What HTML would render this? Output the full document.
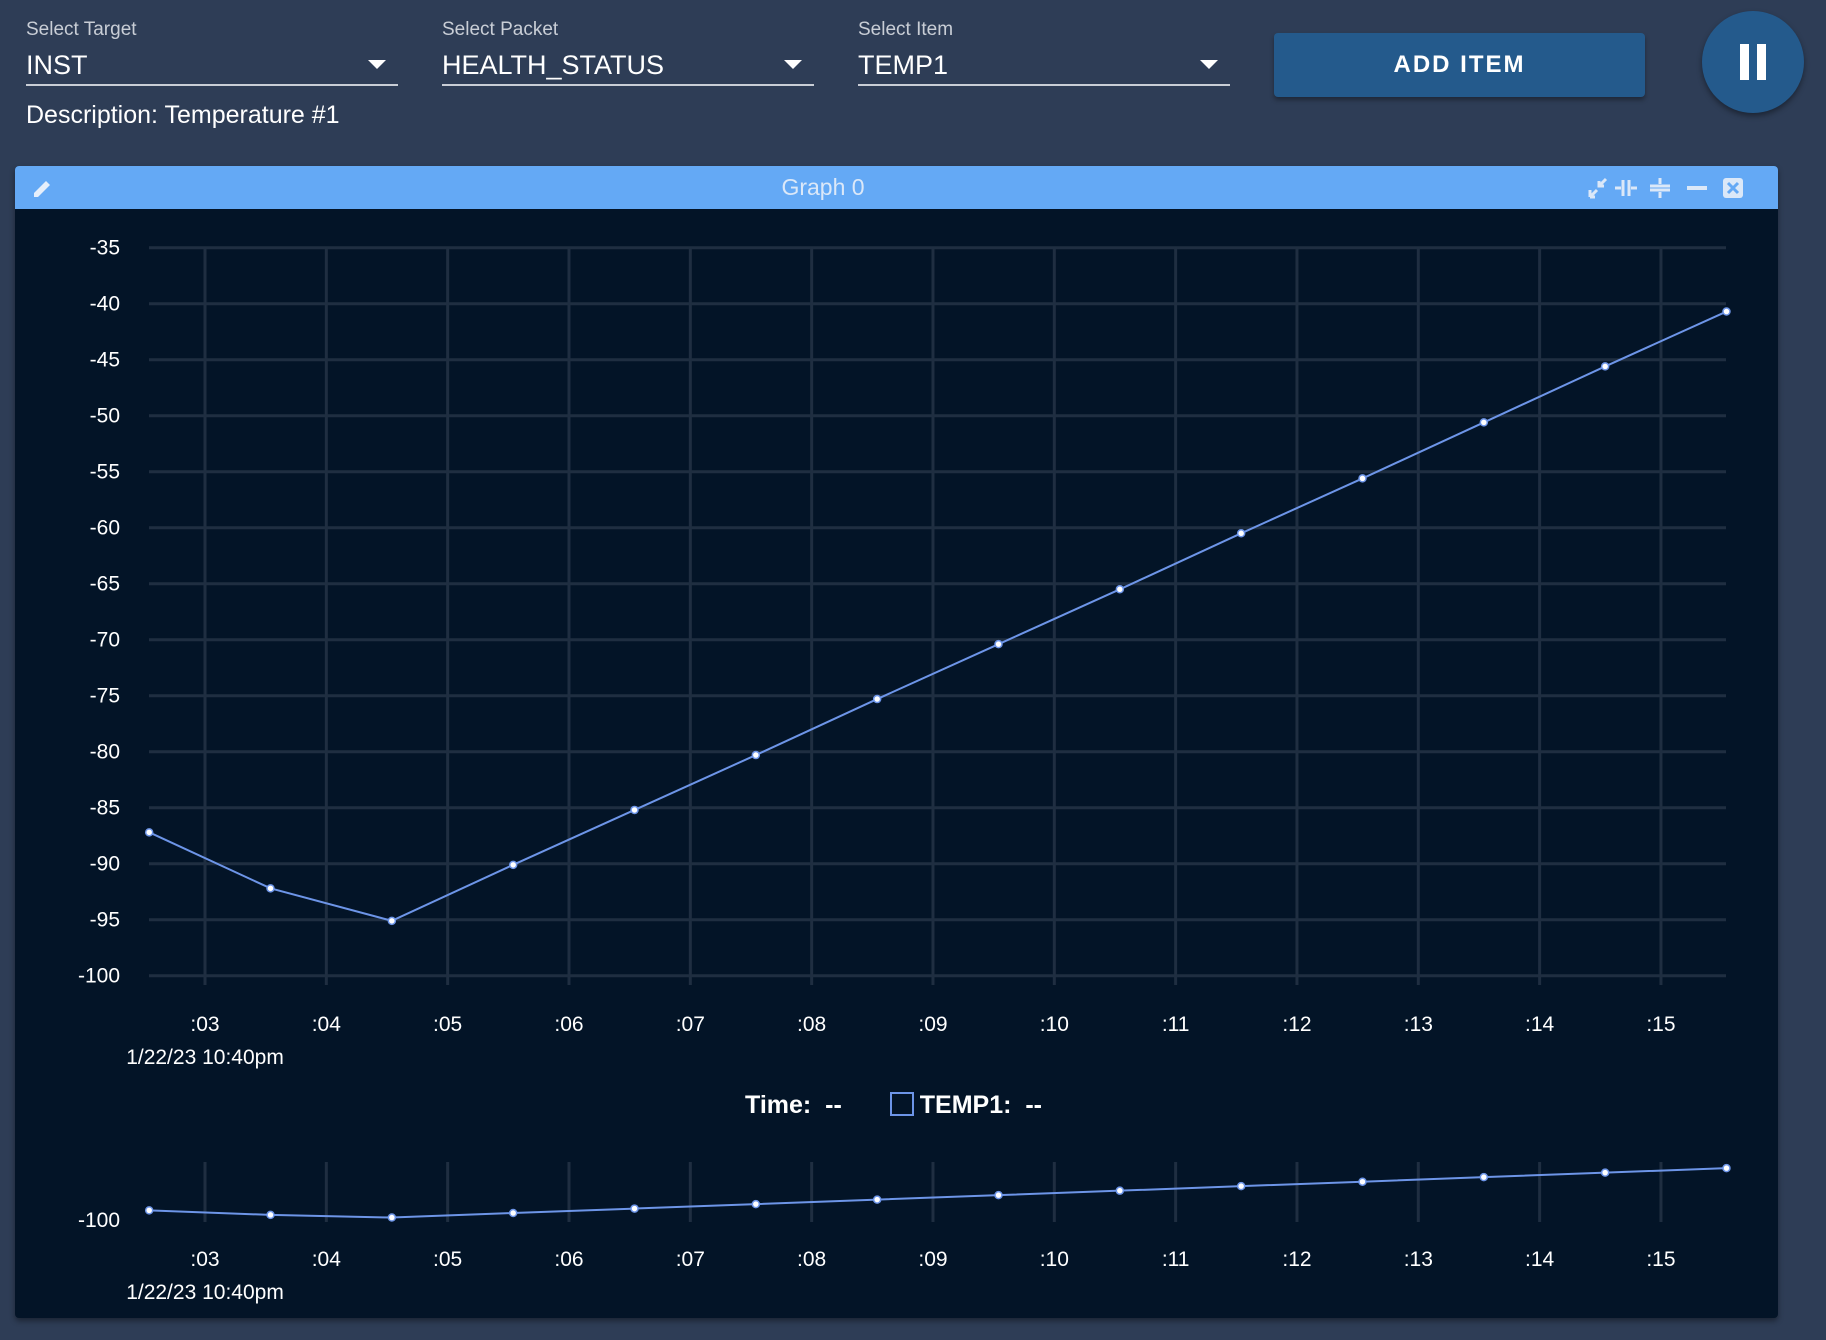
<!DOCTYPE html>
<html><head><meta charset="utf-8">
<style>
body{margin:0;width:1826px;height:1340px;background:#2e3d56;font-family:"Liberation Sans",sans-serif;overflow:hidden;position:relative;color:#fff}
.lbl{position:absolute;top:19px;font-size:19px;color:#c9ced6}
.fld{position:absolute;top:48px;height:36px;border-bottom:2px solid #c9ced6;font-size:27px;color:#fff;line-height:34px}
.arr{position:absolute;right:12px;top:12px;width:0;height:0;border-left:9px solid transparent;border-right:9px solid transparent;border-top:9px solid #fff}
</style></head><body>
<div class="lbl" style="left:26px">Select Target</div>
<div class="fld" style="left:26px;width:372px">INST<div class="arr"></div></div>
<div class="lbl" style="left:442px">Select Packet</div>
<div class="fld" style="left:442px;width:372px">HEALTH_STATUS<div class="arr"></div></div>
<div class="lbl" style="left:858px">Select Item</div>
<div class="fld" style="left:858px;width:372px">TEMP1<div class="arr"></div></div>
<div style="position:absolute;left:1274px;top:33px;width:371px;height:64px;background:#245a8c;border-radius:4px;box-shadow:0 3px 5px rgba(0,0,0,.35);font-size:24px;font-weight:bold;letter-spacing:2px;text-align:center;line-height:64px">ADD ITEM</div>
<div style="position:absolute;left:1702px;top:11px;width:102px;height:102px;border-radius:51px;background:#245a8c;box-shadow:0 3px 6px rgba(0,0,0,.4)"><div style="position:absolute;left:38px;top:33px;width:9px;height:36px;background:#fff"></div><div style="position:absolute;left:55px;top:33px;width:9px;height:36px;background:#fff"></div></div>
<div style="position:absolute;left:26px;top:101px;font-size:25px">Description: Temperature #1</div>

<div style="position:absolute;left:15px;top:166px;width:1763px;height:1152px;background:#031427;border-radius:4px;box-shadow:0 3px 6px rgba(0,0,0,.4)">
 <div style="position:absolute;left:0;top:0;width:1763px;height:43px;background:#64a9f5;border-radius:4px 4px 0 0">
  <div style="position:absolute;left:0;width:1616px;text-align:center;top:8px;font-size:23px;color:#dbe8f8">Graph 0</div>
  <svg style="position:absolute;left:16px;top:10px" width="24" height="24"><path d="M3 21v-4L15 5l4 4L7 21z" fill="#e6effb"/></svg>
  <svg style="position:absolute;left:1570px;top:10px" width="180" height="24" fill="none" stroke="#dbe8f8" stroke-width="3">
   <g><path d="M5 21l7-7M5 14v7h0M10 21H5M21 3l-7 7M14 5v5h5"/></g>
   <g><path d="M38 4v16M44 4v16M30 12h6M52 12h-6"/></g>
   <g><path d="M65 10h20M65 14h20M75 2v6M75 22v-6"/></g>
   <g><path d="M102 12h20" stroke-width="4"/></g>
   <g><rect x="138" y="2" width="20" height="20" rx="3" fill="#dbe8f8" stroke="none"/><path d="M143 7l10 10M153 7l-10 10" stroke="#64a9f5"/></g>
  </svg>
 </div>
</div>
<svg id="chart" style="position:absolute;left:0;top:0" width="1826" height="1340"></svg>
<div style="position:absolute;top:1091px;left:745px;font-size:25px;font-weight:bold;white-space:nowrap">Time:&nbsp; --<span style="display:inline-block;width:20px;height:20px;border:2px solid #6d95e8;margin:0 6px 0 48px;vertical-align:-3px"></span>TEMP1:&nbsp; --</div>
<script>
const times=[2.54,3.54,4.54,5.54,6.54,7.54,8.54,9.54,10.54,11.54,12.54,13.54,14.54,15.54];
const values=[-87.2,-92.2,-95.1,-90.1,-85.2,-80.3,-75.3,-70.4,-65.5,-60.5,-55.6,-50.6,-45.6,-40.7];
const yTicks=[-35,-40,-45,-50,-55,-60,-65,-70,-75,-80,-85,-90,-95,-100];
const xTicks=[3,4,5,6,7,8,9,10,11,12,13,14,15];
const xLabels=[":03",":04",":05",":06",":07",":08",":09",":10",":11",":12",":13",":14",":15"];
const dateLabel="1/22/23 10:40pm";
const NS="http://www.w3.org/2000/svg",svg=document.getElementById('chart');
const X=t=>205+(t-3)*121.33;
const Y=v=>247.7+(-35-v)*11.2;
const Y2=v=>1163+(-35-v)*(59/65);
function mk(tag,a,p){const e=document.createElementNS(NS,tag);for(const k in a)e.setAttribute(k,a[k]);(p||svg).appendChild(e);return e;}
yTicks.forEach(v=>{const l=mk('line',{x1:149,x2:1726,y1:Y(v),y2:Y(v),stroke:'#1f2e41','stroke-width':3});


const t=mk('text',{x:120,y:Y(v)+7,'text-anchor':'end','font-size':21,fill:'#fff'});t.textContent=v;

});
xTicks.forEach((s,i)=>{const l=mk('line',{x1:X(s),x2:X(s),y1:247,y2:985,stroke:'#1f2e41','stroke-width':3});


const l2=mk('line',{x1:X(s),x2:X(s),y1:1162,y2:1222,stroke:'#1f2e41','stroke-width':3});


[1031,1266].forEach(y=>{const t=mk('text',{x:X(s),y:y,'text-anchor':'middle','font-size':21,fill:'#fff'});t.textContent=xLabels[i];

});});
[1064,1299].forEach(y=>{const t=mk('text',{x:205,y:y,'text-anchor':'middle','font-size':21,fill:'#fff'});t.textContent=dateLabel;

});
const ov=mk('text',{x:120,y:1227,'text-anchor':'end','font-size':21,fill:'#fff'});ov.textContent='-100';


[[Y,'temp1-line'],[Y2,'overview-line']].forEach(([f,n])=>{
const p=mk('polyline',{points:times.map((t,i)=>X(t)+','+f(values[i])).join(' '),fill:'none',stroke:'#6d95e8','stroke-width':2});


times.forEach((t,i)=>{const c=mk('circle',{cx:X(t),cy:f(values[i]),r:3.5,fill:'#fff',stroke:'#6d95e8','stroke-width':1.5});

});});
</script>
</body></html>
